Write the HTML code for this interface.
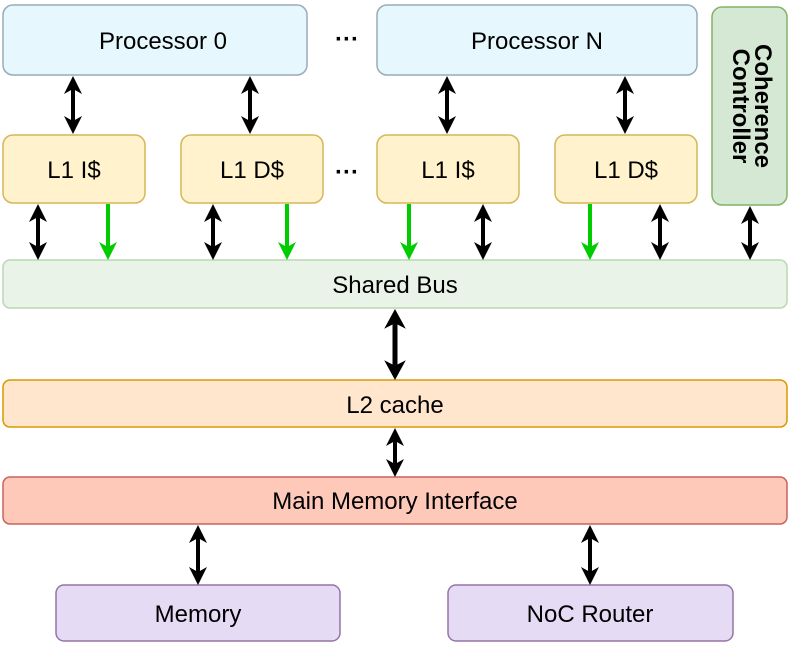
<!DOCTYPE html>
<html><head><meta charset="utf-8"><style>
body{margin:0;background:#fff}
svg{display:block}
text{font-family:"Liberation Sans",sans-serif;font-size:24px;fill:#000}
</style></head><body>
<svg width="789" height="648" viewBox="0 0 789 648" xmlns="http://www.w3.org/2000/svg">
<defs>
<path id="h" d="M0,0 L9,18 L0,13 L-9,18 Z" fill="#000"/>
<path id="gh" d="M0,0 L9,18 L0,13 L-9,18 Z" fill="#00cc00"/>
</defs>
<g stroke-width="1.5">
<rect x="3" y="5" width="304" height="70" rx="10" fill="#e6f8fd" stroke="#9aabb7"/>
<rect x="377" y="5" width="320" height="70" rx="10" fill="#e6f8fd" stroke="#9aabb7"/>
<rect x="712" y="7" width="75" height="198" rx="10" fill="#d5e8d4" stroke="#82b366"/>
<rect x="3" y="135" width="142" height="68" rx="10" fill="#fff2cc" stroke="#d6b656"/>
<rect x="181" y="135" width="142" height="68" rx="10" fill="#fff2cc" stroke="#d6b656"/>
<rect x="377" y="135" width="142" height="68" rx="10" fill="#fff2cc" stroke="#d6b656"/>
<rect x="555" y="135" width="142" height="68" rx="10" fill="#fff2cc" stroke="#d6b656"/>
<rect x="3" y="260" width="784" height="48" rx="7" fill="#e9f3e7" stroke="#b9d9b1"/>
<rect x="3" y="380" width="784" height="47" rx="7" fill="#ffe6cc" stroke="#d79b00"/>
<rect x="3" y="477" width="784" height="47" rx="7" fill="#ffc9b9" stroke="#c8645c"/>
<rect x="56" y="585" width="284" height="56" rx="8" fill="#e6dbf5" stroke="#9673a6"/>
<rect x="448" y="585" width="285" height="56" rx="8" fill="#e6dbf5" stroke="#9673a6"/>
</g>
<g stroke="#000" stroke-width="4">
<line x1="73" y1="88" x2="73" y2="122"/>
<line x1="250" y1="88" x2="250" y2="122"/>
<line x1="447" y1="88" x2="447" y2="122"/>
<line x1="625" y1="88" x2="625" y2="122"/>
<line x1="38" y1="216" x2="38" y2="248"/>
<line x1="213" y1="216" x2="213" y2="248"/>
<line x1="483" y1="216" x2="483" y2="248"/>
<line x1="660" y1="216" x2="660" y2="248"/>
<line x1="750" y1="218" x2="750" y2="248"/>
<line x1="198" y1="537" x2="198" y2="573"/>
<line x1="590" y1="537" x2="590" y2="573"/>
<line x1="395" y1="440" x2="395" y2="465"/>
<line x1="395" y1="322" x2="395" y2="368" stroke-width="5"/>
</g>
<g>
<use href="#h" transform="translate(73,76)"/><use href="#h" transform="translate(73,134) scale(1,-1)"/>
<use href="#h" transform="translate(250,76)"/><use href="#h" transform="translate(250,134) scale(1,-1)"/>
<use href="#h" transform="translate(447,76)"/><use href="#h" transform="translate(447,134) scale(1,-1)"/>
<use href="#h" transform="translate(625,76)"/><use href="#h" transform="translate(625,134) scale(1,-1)"/>
<use href="#h" transform="translate(38,204)"/><use href="#h" transform="translate(38,260) scale(1,-1)"/>
<use href="#h" transform="translate(213,204)"/><use href="#h" transform="translate(213,260) scale(1,-1)"/>
<use href="#h" transform="translate(483,204)"/><use href="#h" transform="translate(483,260) scale(1,-1)"/>
<use href="#h" transform="translate(660,204)"/><use href="#h" transform="translate(660,260) scale(1,-1)"/>
<use href="#h" transform="translate(750,206)"/><use href="#h" transform="translate(750,260) scale(1,-1)"/>
<use href="#h" transform="translate(198,525)"/><use href="#h" transform="translate(198,585) scale(1,-1)"/>
<use href="#h" transform="translate(590,525)"/><use href="#h" transform="translate(590,585) scale(1,-1)"/>
<use href="#h" transform="translate(395,428)"/><use href="#h" transform="translate(395,477) scale(1,-1)"/>
<use href="#h" transform="translate(395,309) scale(1.2,1.1)"/><use href="#h" transform="translate(395,380) scale(1.2,-1.1)"/>
</g>
<g stroke="#00cc00" stroke-width="4">
<line x1="108" y1="204" x2="108" y2="248"/>
<line x1="287" y1="204" x2="287" y2="248"/>
<line x1="409" y1="204" x2="409" y2="248"/>
<line x1="590" y1="204" x2="590" y2="248"/>
</g>
<g>
<use href="#gh" transform="translate(108,260) scale(1,-1)"/>
<use href="#gh" transform="translate(287,260) scale(1,-1)"/>
<use href="#gh" transform="translate(409,260) scale(1,-1)"/>
<use href="#gh" transform="translate(590,260) scale(1,-1)"/>
</g>
<g text-anchor="middle">
<text x="163" y="49">Processor 0</text>
<text x="537" y="49">Processor N</text>
<text x="74" y="178">L1 I$</text>
<text x="252" y="178">L1 D$</text>
<text x="448" y="178">L1 I$</text>
<text x="626" y="178">L1 D$</text>
<text x="395" y="293">Shared Bus</text>
<text x="395" y="413">L2 cache</text>
<text x="395" y="509">Main Memory Interface</text>
<text x="198" y="622">Memory</text>
<text x="590" y="622">NoC Router</text>
<text x="347" y="47" font-weight="bold" font-size="36">···</text>
<text x="347" y="180" font-weight="bold" font-size="36">···</text>
<text transform="translate(750,106) rotate(90)" font-weight="bold" font-size="19"><tspan x="0" y="-5">Coherence</tspan><tspan x="0" y="17">Controller</tspan></text>
</g>
</svg>
</body></html>
